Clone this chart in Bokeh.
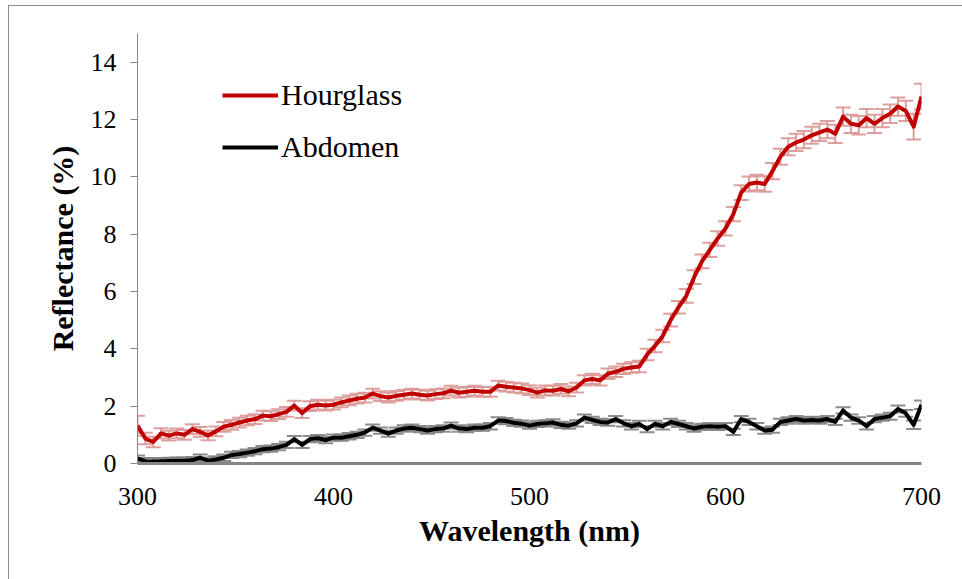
from bokeh.plotting import figure
from bokeh.models import ColumnDataSource, Whisker, TeeHead, Legend, LegendItem, FixedTicker, Range1d
from bokeh.embed import file_html
from bokeh.resources import INLINE

wavelength = list(range(300, 701, 4))

hourglass = [1.32, 0.87, 0.75, 1.05, 0.97, 1.05, 1.00, 1.20, 1.10, 0.98,
             1.12, 1.28, 1.35, 1.43, 1.50, 1.55, 1.67, 1.65, 1.72, 1.80,
             2.02, 1.76, 2.00, 2.05, 2.02, 2.05, 2.13, 2.20, 2.26, 2.30,
             2.44, 2.35, 2.30, 2.36, 2.40, 2.44, 2.40, 2.37, 2.42, 2.45,
             2.54, 2.47, 2.50, 2.54, 2.50, 2.50, 2.72, 2.68, 2.65, 2.62,
             2.56, 2.47, 2.55, 2.54, 2.60, 2.52, 2.65, 2.90, 2.95, 2.90,
             3.13, 3.20, 3.30, 3.35, 3.38, 3.80, 4.10, 4.45, 5.00, 5.45,
             5.85, 6.50, 7.05, 7.45, 7.85, 8.20, 8.70, 9.45, 9.75, 9.80,
             9.75, 10.20, 10.70, 11.05, 11.20, 11.30, 11.45, 11.55, 11.65, 11.50,
             12.10, 11.85, 11.80, 12.05, 11.85, 12.05, 12.20, 12.45, 12.30, 11.75,
             12.80]

hourglass_err = [0.35, 0.20, 0.18, 0.18, 0.17, 0.17, 0.17, 0.17, 0.17, 0.17,
                 0.17, 0.17, 0.17, 0.17, 0.17, 0.17, 0.17, 0.17, 0.17, 0.17,
                 0.17, 0.17, 0.17, 0.17, 0.17, 0.17, 0.17, 0.17, 0.17, 0.17,
                 0.17, 0.17, 0.17, 0.17, 0.17, 0.17, 0.17, 0.17, 0.17, 0.17,
                 0.17, 0.17, 0.17, 0.17, 0.17, 0.17, 0.17, 0.17, 0.17, 0.17,
                 0.17, 0.17, 0.17, 0.17, 0.17, 0.17, 0.17, 0.18, 0.18, 0.18,
                 0.18, 0.18, 0.18, 0.18, 0.20, 0.20, 0.22, 0.22, 0.22, 0.22,
                 0.24, 0.24, 0.24, 0.25, 0.25, 0.25, 0.25, 0.26, 0.26, 0.27,
                 0.27, 0.28, 0.28, 0.30, 0.30, 0.30, 0.30, 0.30, 0.30, 0.32,
                 0.32, 0.32, 0.32, 0.32, 0.32, 0.32, 0.32, 0.32, 0.35, 0.45,
                 0.45]

abdomen = [0.17, 0.08, 0.07, 0.08, 0.09, 0.10, 0.10, 0.12, 0.20, 0.10,
           0.14, 0.20, 0.30, 0.33, 0.38, 0.43, 0.50, 0.52, 0.57, 0.65,
           0.85, 0.65, 0.85, 0.88, 0.82, 0.90, 0.90, 0.95, 1.00, 1.08,
           1.25, 1.15, 1.04, 1.15, 1.22, 1.25, 1.20, 1.15, 1.20, 1.22,
           1.32, 1.22, 1.20, 1.25, 1.25, 1.30, 1.50, 1.48, 1.42, 1.39,
           1.32, 1.38, 1.40, 1.43, 1.35, 1.32, 1.40, 1.60, 1.52, 1.45,
           1.43, 1.55, 1.40, 1.30, 1.38, 1.20, 1.38, 1.30, 1.45, 1.38,
           1.30, 1.22, 1.28, 1.30, 1.28, 1.30, 1.10, 1.55, 1.45, 1.30,
           1.15, 1.18, 1.45, 1.50, 1.55, 1.50, 1.52, 1.50, 1.55, 1.45,
           1.85, 1.60, 1.50, 1.30, 1.55, 1.60, 1.65, 1.90, 1.75, 1.35,
           2.05]

abdomen_err = [0.11] * 96 + [0.12, 0.12, 0.12, 0.15, 0.15]

x_ticks = [300, 400, 500, 600, 700]
y_ticks = [0, 2, 4, 6, 8, 10, 12, 14]

SERIF = "'Liberation Serif', 'Times New Roman', serif"

src_h = ColumnDataSource(dict(
    x=wavelength, y=hourglass,
    lo=[v - e for v, e in zip(hourglass, hourglass_err)],
    hi=[v + e for v, e in zip(hourglass, hourglass_err)]))
src_a = ColumnDataSource(dict(
    x=wavelength, y=abdomen,
    lo=[v - e for v, e in zip(abdomen, abdomen_err)],
    hi=[v + e for v, e in zip(abdomen, abdomen_err)]))

p = figure(width=954, height=574, output_backend="svg", toolbar_location=None,
           x_range=Range1d(300, 700), y_range=Range1d(0, 15),
           min_border_left=128, min_border_right=42, min_border_top=27,
           min_border_bottom=117)
p.styles = {"margin-left": "8px", "margin-top": "5px",
            "border-left": "1px solid #8c8c8c", "border-top": "1px solid #8c8c8c"}
p.outline_line_color = None
p.xgrid.grid_line_color = None
p.ygrid.grid_line_color = None
p.background_fill_color = "white"
p.border_fill_color = "white"

for src, col in ((src_h, "#D99694"), (src_a, "#7F7F7F")):
    w = Whisker(base="x", lower="lo", upper="hi", source=src, dimension="height",
                line_color=col, line_width=2, line_alpha=0.9,
                upper_head=TeeHead(size=15, line_color=col, line_width=2, line_alpha=0.9),
                lower_head=TeeHead(size=15, line_color=col, line_width=2, line_alpha=0.9))
    w.level = "underlay"
    p.add_layout(w)

r_h = p.line("x", "y", source=src_h, line_color="#C00000", line_width=4, line_join="round")
r_a = p.line("x", "y", source=src_a, line_color="#000000", line_width=4, line_join="round")

# axes
p.xaxis.ticker = FixedTicker(ticks=x_ticks)
p.yaxis.ticker = FixedTicker(ticks=y_ticks)
p.xaxis.axis_label = "Wavelength (nm)"
p.yaxis.axis_label = "Reflectance (%)"
for ax in (p.xaxis[0], p.yaxis[0]):
    ax.axis_label_text_font = SERIF
    ax.axis_label_text_font_style = "bold"
    ax.axis_label_text_font_size = "30px"
    ax.axis_label_text_color = "black"
    ax.major_label_text_font = SERIF
    ax.major_label_text_font_size = "26px"
    ax.major_label_text_color = "black"
    ax.minor_tick_line_color = None

p.xaxis.axis_line_color = "#868686"
p.xaxis.axis_line_width = 3
p.xaxis.major_tick_line_color = None
p.xaxis.major_label_standoff = 18
p.xaxis.axis_label_standoff = 6

p.yaxis.axis_line_color = "#868686"
p.yaxis.axis_line_width = 1
p.yaxis.major_tick_line_color = "#868686"
p.yaxis.major_tick_out = 7
p.yaxis.major_tick_in = 0
p.yaxis.major_label_standoff = 14
p.yaxis.axis_label_standoff = 9

legend = Legend(items=[LegendItem(label="Hourglass", renderers=[r_h]),
                       LegendItem(label="Abdomen", renderers=[r_a])],
                location=(85, 290), padding=0, spacing=0, margin=0,
                label_text_font=SERIF, label_text_font_size="30px",
                label_text_color="black",
                glyph_width=56, glyph_height=52, label_height=52,
                label_standoff=3,
                border_line_color=None, background_fill_alpha=0)
p.add_layout(legend)

open("out.html", "w").write(file_html(p, INLINE))
